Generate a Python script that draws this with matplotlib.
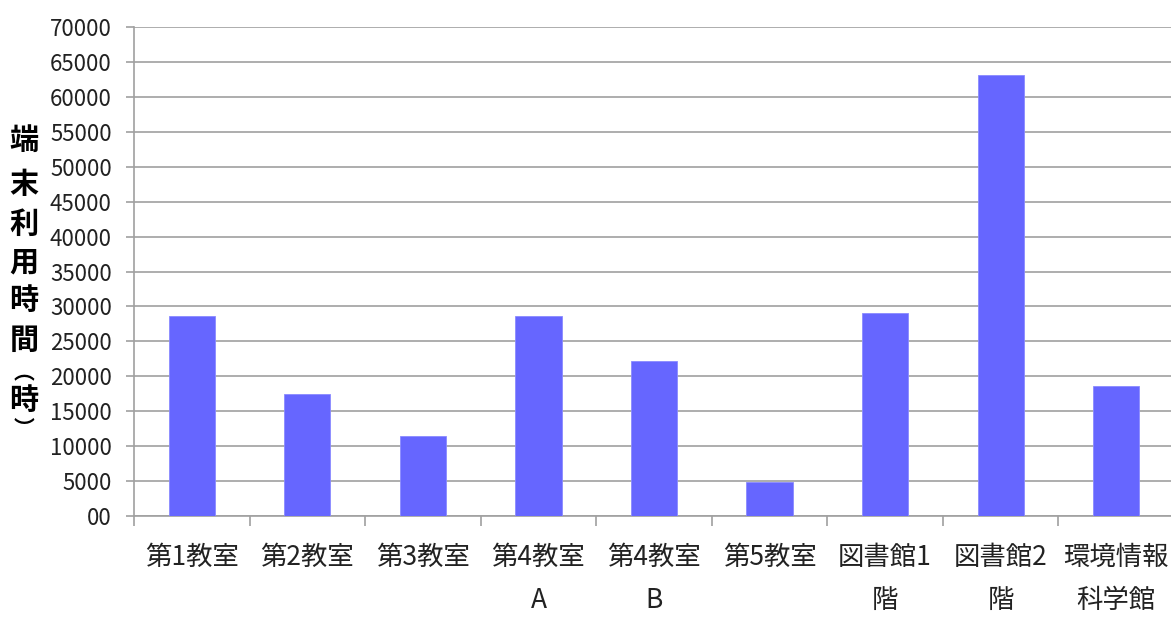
import matplotlib
matplotlib.use("Agg")
import matplotlib.pyplot as plt
import numpy as np

categories = ["第1教室", "第2教室", "第3教室", "第4教室\nA", "第4教室\nB",
              "第5教室", "図書館1\n階", "図書館2\n階", "環境情報\n科学館"]
values = [28600, 17500, 11500, 28600, 22200, 4900, 29000, 63100, 18600]
yticks = list(range(0, 70001, 5000))
ytick_labels = ["00"] + [str(v) for v in yticks[1:]]
ylabel_chars = ["端", "末", "利", "用", "時", "間", "︵", "時", "︶"]

plt.rcParams['font.family'] = ['Noto Sans CJK JP', 'DejaVu Sans']

fig = plt.figure(figsize=(11.71, 6.21), dpi=100)
ax = fig.add_axes([134/1171, 1 - 516/621, (1174 - 134)/1171, (516 - 27)/621])

x = np.arange(len(categories))
ax.bar(x, values, width=0.4, color="#6666FF", edgecolor="#8a8aff", linewidth=0.6, zorder=3)

ax.set_xlim(-0.5, len(categories) - 0.5)
ax.set_ylim(0, 70000)
ax.set_yticks(yticks)
ax.set_yticklabels(ytick_labels, fontsize=16, color="#222222")
ax.yaxis.grid(True, color="#a0a0a0", linewidth=1.2, zorder=0)
ax.set_axisbelow(True)

ax.set_xticks(x)
ax.set_xticklabels(categories, fontsize=19, color="#222222", linespacing=1.75, va="top")
ax.set_xticks(np.arange(-0.5, len(categories)), minor=True)
ax.tick_params(axis="x", which="major", length=0, pad=20)
ax.tick_params(axis="x", which="minor", length=7, width=1.2, color="#a0a0a0", direction="out")
ax.tick_params(axis="y", length=6, width=1.2, color="#a0a0a0", pad=10)

for s in ["top", "right"]:
    ax.spines[s].set_visible(False)
for s in ["left", "bottom"]:
    ax.spines[s].set_color("#a0a0a0")
    ax.spines[s].set_linewidth(1.2)

ys = [140, 184, 224, 262, 300, 340, 373, 400, 428]
for ch, yp in zip(ylabel_chars, ys):
    fs = 15 if ch in ("︵", "︶") else 21
    fig.text(24/1171, 1 - yp/621, ch, fontsize=fs, fontweight="bold",
             ha="center", va="center", color="#000000")

fig.savefig("out.png", dpi=100)
